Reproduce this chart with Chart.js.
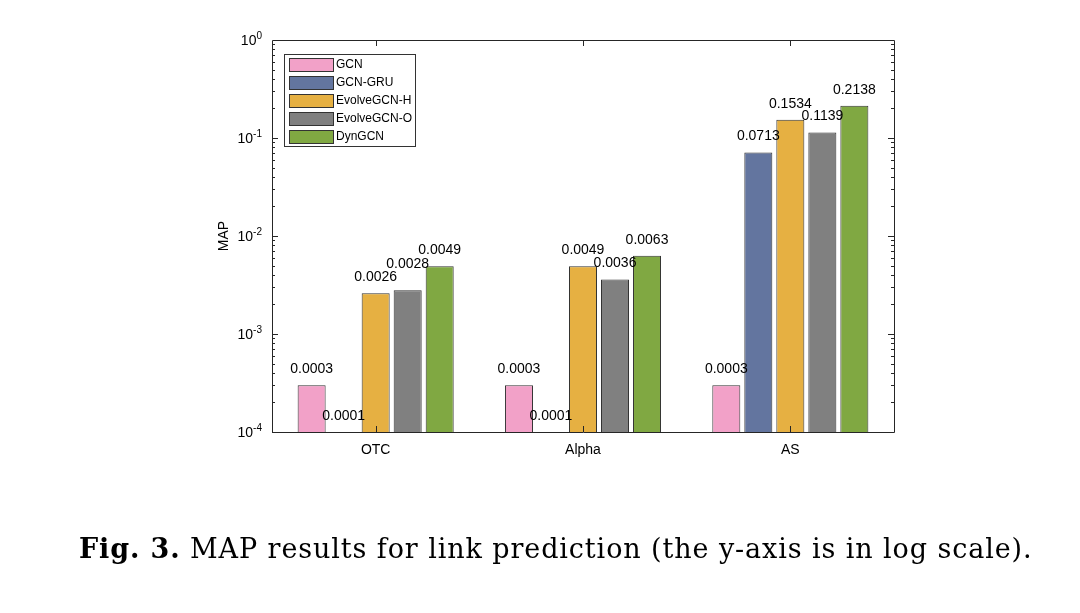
<!DOCTYPE html>
<html>
<head>
<meta charset="utf-8">
<script src="https://cdn.jsdelivr.net/npm/chart.js@4"></script>
<style>
  html, body { margin: 0; padding: 0; background: #fff; }
  #wrap { position: relative; width: 1080px; height: 613px; }
  #caption {
    position: absolute; left: 79px; top: 533px; white-space: nowrap;
    font-family: "DejaVu Serif", "Liberation Serif", serif; font-size: 27px;
    letter-spacing: 0.9px; color: #000;
  }
</style>
</head>
<body>
<div id="wrap">
  <canvas id="chart" width="1080" height="613"></canvas>
  <div id="caption"><b>Fig. 3.</b> MAP results for link prediction (the y-axis is in log scale).</div>
</div>
<script>
const categories = ["OTC", "Alpha", "AS"];
const seriesNames = ["GCN", "GCN-GRU", "EvolveGCN-H", "EvolveGCN-O", "DynGCN"];
const gcn = [0.0003, 0.0003, 0.0003];
const gcnGru = [0.0001, 0.0001, 0.0713];
const evolveH = [0.0026, 0.0049, 0.1534];
const evolveO = [0.0028, 0.0036, 0.1139];
const dynGcn = [0.0049, 0.0063, 0.2138];
const yTickValues = [1e-4, 1e-3, 1e-2, 1e-1, 1];
const yTickExponents = ["-4", "-3", "-2", "-1", "0"];
const colors = ["#f2a1c8", "#63759f", "#e6b042", "#808080", "#80a842"];

const FONT = "'Liberation Sans', Arial, Helvetica, sans-serif";
const AXIS = "#262626";

// box, inward ticks, value labels and legend drawn on top like matlab does
const matlabAxes = {
  id: "matlabAxes",
  afterDatasetsDraw(chart) {
    const ctx = chart.ctx;
    ctx.save();
    ctx.font = "14px " + FONT;
    ctx.fillStyle = "#000";
    ctx.textAlign = "center";
    ctx.textBaseline = "bottom";
    // group labels per category so neighbours don't collide
    for (let c = 0; c < categories.length; c++) {
      let prev = null;
      chart.data.datasets.forEach((ds, i) => {
        const el = chart.getDatasetMeta(i).data[c];
        const txt = ds.data[c].toFixed(4);
        const w = ctx.measureText(txt).width;
        let bottom = el.y - 9;
        if (prev && el.x - w / 2 < prev.right && bottom > prev.top && bottom - 12 < prev.bottom) {
          bottom = prev.top - 1;
        }
        ctx.fillText(txt, el.x, bottom);
        prev = { right: el.x + w / 2, top: bottom - 12, bottom: bottom };
      });
    }
    ctx.restore();
  },
  afterDraw(chart) {
    const ctx = chart.ctx;
    const a = chart.chartArea;
    const y = chart.scales.y;
    const x = chart.scales.x;
    ctx.save();
    ctx.strokeStyle = AXIS;
    ctx.lineWidth = 1;
    ctx.beginPath();
    ctx.rect(Math.round(a.left) + 0.5, Math.round(a.top) + 0.5,
      Math.round(a.right - a.left), Math.round(a.bottom - a.top));
    ctx.stroke();

    ctx.beginPath();
    for (let e = -4; e < 0; e++) {
      for (let k = 1; k <= 9; k++) {
        const v = k * Math.pow(10, e);
        const py = Math.round(y.getPixelForValue(v)) + 0.5;
        const len = k === 1 ? 6 : 3;
        ctx.moveTo(a.left, py); ctx.lineTo(a.left + len, py);
        ctx.moveTo(a.right, py); ctx.lineTo(a.right - len, py);
      }
    }
    categories.forEach((c, i) => {
      const px = Math.round(x.getPixelForValue(i)) + 0.5;
      ctx.moveTo(px, a.bottom); ctx.lineTo(px, a.bottom - 6);
      ctx.moveTo(px, a.top); ctx.lineTo(px, a.top + 6);
    });
    ctx.stroke();

    // y tick labels as 10 with a raised exponent
    ctx.fillStyle = "#000";
    yTickValues.forEach((v, i) => {
      const py = y.getPixelForValue(v);
      const right = a.left - 10;
      ctx.font = "10px " + FONT;
      const ew = ctx.measureText(yTickExponents[i]).width;
      ctx.textAlign = "left";
      ctx.textBaseline = "alphabetic";
      ctx.fillText(yTickExponents[i], right - ew, py - 1);
      ctx.font = "14px " + FONT;
      ctx.textAlign = "right";
      ctx.textBaseline = "middle";
      ctx.fillText("10", right - ew, py + 1);
    });

    // legend box
    const lx = 284, ly = 54, lw = 131, lh = 92;
    ctx.fillStyle = "#fff";
    ctx.fillRect(lx, ly, lw, lh);
    ctx.strokeStyle = "#333";
    ctx.strokeRect(lx + 0.5, ly + 0.5, lw, lh);
    ctx.font = "12px " + FONT;
    ctx.textAlign = "left";
    ctx.textBaseline = "middle";
    chart.data.datasets.forEach((ds, i) => {
      const ry = ly + 4 + i * 18;
      ctx.fillStyle = ds.backgroundColor;
      ctx.fillRect(lx + 5, ry, 44, 13);
      ctx.strokeStyle = "#333";
      ctx.strokeRect(lx + 5.5, ry + 0.5, 44, 13);
      ctx.fillStyle = "#000";
      ctx.fillText(ds.label, lx + 52, ry + 7);
    });
    ctx.restore();
  }
};

const seriesValues = [gcn, gcnGru, evolveH, evolveO, dynGcn];

new Chart(document.getElementById("chart"), {
  type: "bar",
  data: {
    labels: categories,
    datasets: seriesNames.map((name, i) => ({
      label: name,
      data: seriesValues[i],
      backgroundColor: colors[i],
      borderColor: "#333333",
      borderWidth: 1,
      categoryPercentage: 0.772,
      barPercentage: 0.875
    }))
  },
  options: {
    responsive: false,
    animation: false,
    layout: { padding: { left: 216, right: 186, top: 40, bottom: 141 } },
    plugins: {
      legend: { display: false },
      tooltip: { enabled: false }
    },
    scales: {
      x: {
        grid: { display: false, drawTicks: false },
        border: { display: false },
        ticks: { color: "#000", font: { family: FONT, size: 14 }, padding: 10 },
        afterFit(scale) { scale.height = 40; }
      },
      y: {
        type: "logarithmic",
        min: 1e-4,
        max: 1,
        grid: { display: false, drawTicks: false },
        border: { display: false },
        title: { display: true, text: "MAP", color: "#000", font: { family: FONT, size: 14 }, padding: 0 },
        afterBuildTicks(scale) { scale.ticks = yTickValues.map(v => ({ value: v, major: true })); },
        ticks: { display: false },
        afterFit(scale) { scale.width = 56; }
      }
    }
  },
  plugins: [matlabAxes]
});
</script>
</body>
</html>
